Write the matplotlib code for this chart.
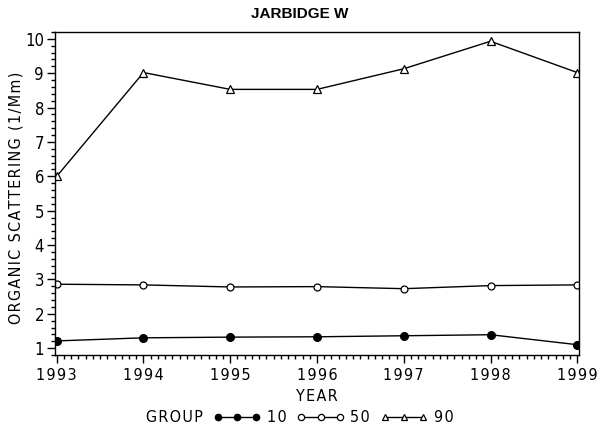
import matplotlib
matplotlib.use("Agg")
import matplotlib.pyplot as plt
from matplotlib.ticker import AutoMinorLocator, MultipleLocator

years = [1993, 1994, 1995, 1996, 1997, 1998, 1999]
g10 = [1.21, 1.30, 1.32, 1.33, 1.36, 1.39, 1.10]
g50 = [2.86, 2.84, 2.78, 2.79, 2.73, 2.82, 2.84]
g90 = [6.00, 9.02, 8.53, 8.53, 9.13, 9.93, 9.02]
title = "JARBIDGE W"
xlabel = "YEAR"
ylabel = "ORGANIC SCATTERING (1/Mm)"
groups = ["10", "50", "90"]

FAM = ['DejaVu Sans']
FP = dict(family=FAM, fontstretch='condensed')
FS = 11.5

def sp(s):
    return "\u200a".join(s)

fig = plt.figure(figsize=(6, 4.3), dpi=100)
ax = fig.add_axes([55/600, 1-355/430, (579-55)/600, (355-32)/430])

kw = dict(color='black', lw=1.0)
l10, = ax.plot(years, g10, marker='o', ms=5.5, mfc='black', mec='black', **kw)
l50, = ax.plot(years, g50, marker='o', ms=5, mfc='white', mec='black', mew=0.9, **kw)
l90, = ax.plot(years, g90, marker='^', ms=5.5, mfc='white', mec='black', mew=0.9, **kw)

ax.set_xlim(1992.98, 1999.02)
ax.set_ylim(0.8, 10.2)
ax.xaxis.set_major_locator(MultipleLocator(1))
ax.xaxis.set_minor_locator(AutoMinorLocator(12))
ax.yaxis.set_major_locator(MultipleLocator(1))
ax.yaxis.set_minor_locator(AutoMinorLocator(5))
ax.tick_params(which='major', direction='out', length=6, width=1, colors='black')
ax.tick_params(which='minor', direction='out', length=3, width=1, colors='black')
ax.set_xticks(years)
ax.set_xticklabels([sp(str(y)) for y in years], fontsize=FS, **FP)
yt = list(range(1, 11))
ax.set_yticks(yt)
ax.set_yticklabels([str(v) for v in yt], fontsize=FS + 0.5, **FP)
ax.tick_params(axis='x', pad=3)
ax.tick_params(axis='y', pad=2)
for s in ax.spines.values():
    s.set_linewidth(1.0)

ax.set_xlabel(sp(xlabel), fontsize=FS, labelpad=5, **FP)
fig.text(16/600, 1-198/430, sp(ylabel), rotation=90, fontsize=FS,
         ha='center', va='center', **FP)
fig.text(0.5, 1-14/430, title, family=['Liberation Sans', 'DejaVu Sans'],
         fontsize=11, fontweight='bold', ha='center', va='center')

fig.text(174/600, 1-418/430, sp("GROUP"), fontsize=FS,
         ha='center', va='center', **FP)
leg = fig.legend([l10, l50, l90], [sp(g) for g in groups], ncol=3, numpoints=3,
                 frameon=False, loc='center left', bbox_to_anchor=(213/600, 1-418/430),
                 handlelength=3.0, handletextpad=0.35, columnspacing=0.65,
                 prop={'family': FAM, 'stretch': 'condensed', 'size': FS},
                 borderpad=0, borderaxespad=0)
for h in leg.legend_handles:
    h.set_markersize(4.5)

fig.savefig("out.png", dpi=100)
